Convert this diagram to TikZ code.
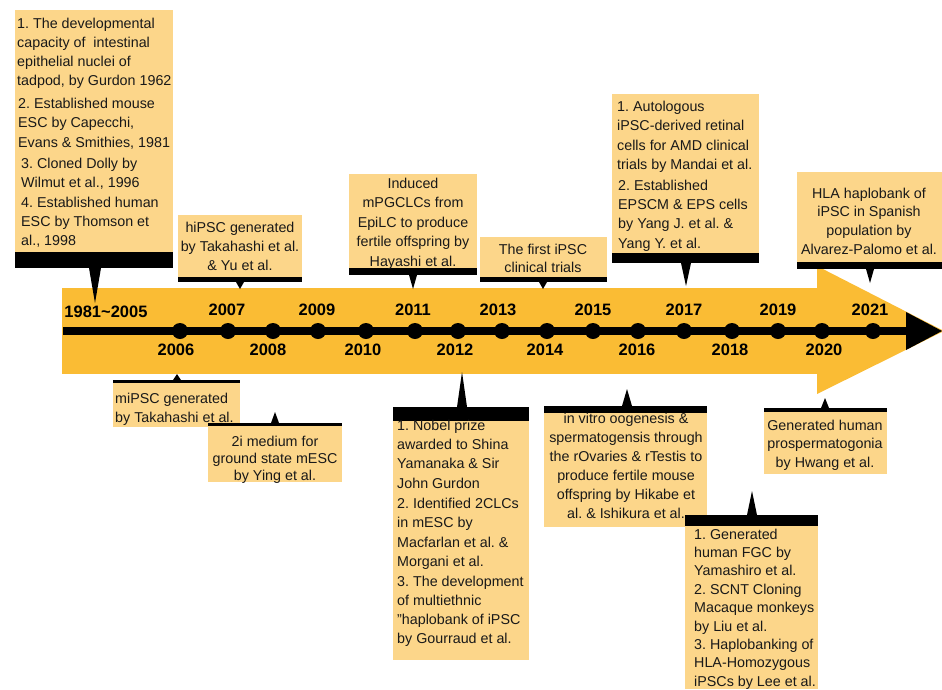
\documentclass[tikz,border=0pt]{standalone}
\usepackage{fontspec}
\setmainfont{Liberation Sans}
\frenchspacing
\definecolor{boxfill}{RGB}{252,214,138}
\definecolor{arrowfill}{RGB}{250,188,52}
\definecolor{txtcol}{RGB}{25,25,25}
\newcommand\bxfont[1]{\fontsize{14.3}{#1}\selectfont}
\tikzset{
  boxbg/.style={fill=boxfill},
  barbk/.style={fill=black},
  ptr/.style={fill=black},
  ltxt/.style={inner sep=0pt, anchor=base west, align=left, text=txtcol, font=\bxfont{#1}},
  ctxt/.style={inner sep=0pt, anchor=base, align=center, text=txtcol, font=\bxfont{#1}},
  yr/.style={inner sep=0pt, anchor=base, font=\fontsize{16.5}{18}\selectfont\bfseries, text=black},
  tdot/.style={circle, fill=black, inner sep=0pt, minimum size=16pt}
}
\begin{document}
\begin{tikzpicture}[x=1pt,y=-1pt]
\useasboundingbox (0,0) rectangle (942,689);
% ---------- timeline arrow ----------
\fill[arrowfill] (62,288) rectangle (818,374);
\fill[arrowfill] (817,266) -- (944,331) -- (817,394) -- cycle;
\draw[line width=8pt] (63,331) -- (910,331);
\fill[black] (906,312) -- (942,331) -- (906,350) -- cycle;
% dots
\foreach \yy/\xx in {2006/180,2007/228,2008/273,2009/318,2010/366,2011/415,2012/458,2013/502,2014/547,2015/593,2016/638,2017/684,2018/732,2019/778,2020/822,2021/873}
  \node[tdot] (dot\yy) at (\xx,331) {};
% year labels
\node[yr] (l1981) at (106,317) {1981{\char"7E}2005};
\node[yr] (l2007) at (227,315.5) {2007};
\node[yr] (l2009) at (317,315.5) {2009};
\node[yr] (l2011) at (413,315.5) {2011};
\node[yr] (l2013) at (498,315.5) {2013};
\node[yr] (l2015) at (593,315.5) {2015};
\node[yr] (l2017) at (684,315.5) {2017};
\node[yr] (l2019) at (778,315.5) {2019};
\node[yr] (l2021) at (870,315.5) {2021};
\node[yr] (l2006) at (176,355.5) {2006};
\node[yr] (l2008) at (268,355.5) {2008};
\node[yr] (l2010) at (363,355.5) {2010};
\node[yr] (l2012) at (455,355.5) {2012};
\node[yr] (l2014) at (545,355.5) {2014};
\node[yr] (l2016) at (637,355.5) {2016};
\node[yr] (l2018) at (730,355.5) {2018};
\node[yr] (l2020) at (824,355.5) {2020};
% ---------- top boxes ----------
% 1981~2005
\fill[boxbg] (15,10) rectangle (173,252);
\fill[barbk] (15,252) rectangle (173,268);
\fill[ptr] (89,268) -- (101,268) -- (95,303) -- cycle;
\node[ltxt=19] (tA1) at (17,85) {1. The developmental\\capacity of\ \ intestinal\\epithelial nuclei of\\tadpod, by Gurdon 1962};
\node[ltxt=19.5] (tA2) at (18,147) {2. Established mouse\\ESC by Capecchi,\\Evans \& Smithies, 1981};
\node[ltxt=19.3] (tA3) at (21,187.3) {3. Cloned Dolly by\\Wilmut et al., 1996};
\node[ltxt=19] (tA4) at (21,245) {4. Established human\\ESC by Thomson et\\al., 1998};
% 2007
\fill[boxbg] (178,215) rectangle (302,277);
\fill[barbk] (178,277) rectangle (302,282);
\fill[ptr] (236,282) -- (244,282) -- (240,289) -- cycle;
\node[ctxt=19] (tB) at (240,270) {hiPSC generated\\by Takahashi et al.\\\& Yu et al.};
% 2011
\fill[boxbg] (349,174) rectangle (477,268);
\fill[barbk] (349,268) rectangle (477,275);
\fill[ptr] (409,275) -- (417,275) -- (413,289) -- cycle;
\node[ctxt=19.5] (tC) at (413,266) {Induced\\mPGCLCs from\\EpiLC to produce\\fertile offspring by\\Hayashi et al.};
% 2013/2014
\fill[boxbg] (480,237) rectangle (607,277);
\fill[barbk] (480,277) rectangle (607,282);
\fill[ptr] (539,282) -- (547,282) -- (543,289) -- cycle;
\node[ctxt=18] (tD) at (543,272) {The first iPSC\\clinical trials};
% 2017
\fill[boxbg] (612,94) rectangle (759,253);
\fill[barbk] (612,253) rectangle (759,263);
\fill[ptr] (681,263) -- (691,263) -- (686,286) -- cycle;
\node[ltxt=19.5] (tE1) at (617,169.5) {1. Autologous\\iPSC-derived retinal\\cells for AMD clinical\\trials by Mandai et al.};
\node[ltxt=19.3] (tE2) at (618,248) {2. Established\\EPSCM \& EPS cells\\by Yang J. et al. \&\\Yang Y. et al.};
% 2021
\fill[boxbg] (797,172) rectangle (942,262);
\fill[barbk] (797,262) rectangle (942,269);
\fill[ptr] (866,269) -- (874,269) -- (870,283) -- cycle;
\node[ctxt=18.8] (tF) at (869,254.4) {HLA haplobank of\\iPSC in Spanish\\population by\\Alvarez-Palomo et al.};
% ---------- bottom boxes ----------
% 2006
\fill[barbk] (113,380) rectangle (240,383);
\fill[boxbg] (113,383) rectangle (240,427);
\fill[ptr] (173,380) -- (181,380) -- (177,374) -- cycle;
\node[ltxt=19] (tG) at (115,422) {miPSC generated\\by Takahashi et al.};
% 2008
\fill[barbk] (208,423) rectangle (342,426);
\fill[boxbg] (208,426) rectangle (342,482);
\fill[ptr] (271,423) -- (279,423) -- (275,412) -- cycle;
\node[ctxt=17] (tH) at (275,480) {2i medium for\\ground state mESC\\by Ying et al.};
% 2012
\fill[barbk] (393,407) rectangle (529,421);
\fill[boxbg] (393,421) rectangle (529,660);
\fill[ptr] (457,407) -- (467,407) -- (462,372) -- cycle;
\node[ltxt=19.3] (tI1) at (397,488) {1. Nobel prize\\awarded to Shina\\Yamanaka \& Sir\\John Gurdon};
\node[ltxt=19.3] (tI2) at (397,566.4) {2. Identified 2CLCs\\in mESC by\\Macfarlan et al. \&\\Morgani et al.};
\node[ltxt=19] (tI3) at (397,643) {3. The development\\of multiethnic\\"haplobank of iPSC\\by Gourraud et al.};
% 2015/2016
\fill[barbk] (544,406) rectangle (707,413);
\fill[boxbg] (544,413) rectangle (707,527);
\fill[ptr] (622,406) -- (632,406) -- (627,389) -- cycle;
\node[ctxt=19] (tJ) at (626,518) {in vitro oogenesis \&\\spermatogensis through\\the rOvaries \& rTestis to\\produce fertile mouse\\offspring by Hikabe et\\al. \& Ishikura et al.};
% 2020
\fill[barbk] (764,408) rectangle (887,412);
\fill[boxbg] (764,412) rectangle (887,474);
\fill[ptr] (821,408) -- (829,408) -- (825,398) -- cycle;
\node[ctxt=18.7] (tK) at (825,467.4) {Generated human\\prospermatogonia\\by Hwang et al.};
% 2018
\fill[barbk] (685,515) rectangle (818,526);
\fill[boxbg] (685,526) rectangle (818,689);
\fill[ptr] (747,515) -- (757,515) -- (752,491) -- cycle;
\node[ltxt=18.4] (tL) at (694,686.2) {1. Generated\\human FGC by\\Yamashiro et al.\\2. SCNT Cloning\\Macaque monkeys\\by Liu et al.\\3. Haplobanking of\\HLA-Homozygous\\iPSCs by Lee et al.};
\end{tikzpicture}
\end{document}
